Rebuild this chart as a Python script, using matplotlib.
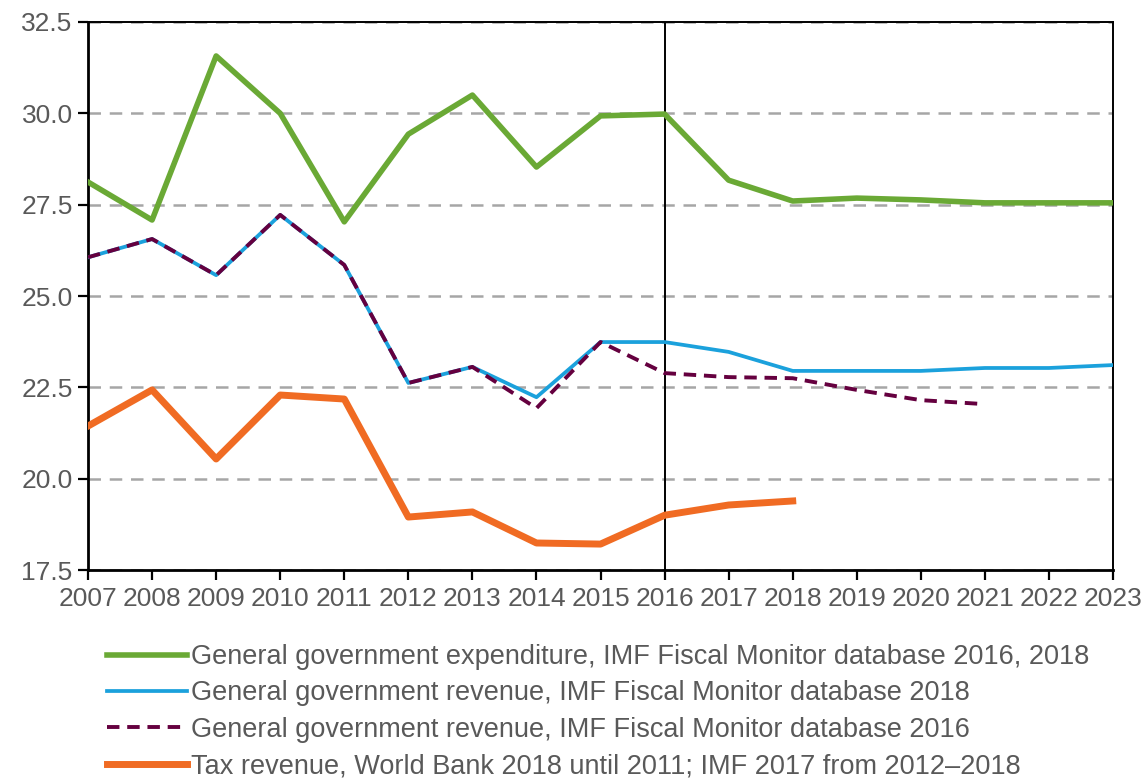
import matplotlib

matplotlib.use("Agg")
import matplotlib.pyplot as plt

years = list(range(2007, 2024))

expenditure = [28.12, 27.08, 31.57, 30.0, 27.03, 29.43, 30.5, 28.53, 29.93, 29.98,
               28.17, 27.6, 27.68, 27.63, 27.55, 27.55, 27.55]
revenue_2018 = [26.06, 26.56, 25.57, 27.22, 25.85, 22.62, 23.06, 22.23, 23.74, 23.74,
                23.47, 22.95, 22.95, 22.95, 23.03, 23.03, 23.11]
revenue_2016 = [26.06, 26.56, 25.57, 27.22, 25.85, 22.62, 23.06, 21.93, 23.74, 22.89,
                22.78, 22.75, 22.43, 22.15, 22.04]
tax_revenue = [21.44, 22.43, 20.54, 22.29, 22.18, 18.95, 19.09, 18.24, 18.21, 19.0,
               19.28, 19.39]

labels = [
    "General government expenditure, IMF Fiscal Monitor database 2016, 2018",
    "General government revenue, IMF Fiscal Monitor database 2018",
    "General government revenue, IMF Fiscal Monitor database 2016",
    "Tax revenue, World Bank 2018 until 2011; IMF 2017 from 2012\u20132018",
]

plt.rcParams["font.family"] = ["Liberation Sans", "DejaVu Sans"]
text_color = "#595959"

fig = plt.figure(figsize=(11.43, 7.8), dpi=100)
ax = fig.add_axes([0.077, 0.2692, 0.8968, 0.7026])

ax.plot(years, expenditure, color="#6aa935", lw=4.0, label=labels[0], zorder=3)
ax.plot(years, revenue_2018, color="#1ba1dc", lw=2.7, label=labels[1], zorder=3)
ax.plot(years[:len(revenue_2016)], revenue_2016, color="#65003f", lw=2.8,
        dashes=(3.2, 2.0), label=labels[2], zorder=4)
ax.plot(years[:len(tax_revenue)], tax_revenue, color="#f06b23", lw=5.0,
        label=labels[3], zorder=3)

# forecast boundary
ax.axvline(2016, color="black", lw=1.4, zorder=2)

ax.set_xlim(2007, 2023)
ax.set_ylim(17.5, 32.5)
ax.set_xticks(years)
ax.set_yticks([17.5, 20.0, 22.5, 25.0, 27.5, 30.0, 32.5])
ax.set_yticklabels([f"{v:.1f}" for v in ax.get_yticks()])
ax.yaxis.grid(True, color="#a6a6a6", lw=1.8, dashes=(5, 3.5))
ax.set_axisbelow(True)

for spine in ax.spines.values():
    spine.set_color("black")
    spine.set_linewidth(1.4)
ax.spines["bottom"].set_linewidth(2.0)
ax.spines["left"].set_linewidth(2.0)

ax.tick_params(axis="both", direction="out", length=7, width=1.6,
               labelsize=19, labelcolor=text_color, color="black")
ax.tick_params(axis="x", pad=5)
ax.tick_params(axis="y", pad=4)

leg = fig.legend(loc="upper left", bbox_to_anchor=(0.084, 0.188), frameon=False,
                 fontsize=19.5, labelcolor=text_color, handlelength=2.95,
                 handletextpad=0.16, labelspacing=0.38, borderaxespad=0)

fig.savefig("out.png", dpi=100)
